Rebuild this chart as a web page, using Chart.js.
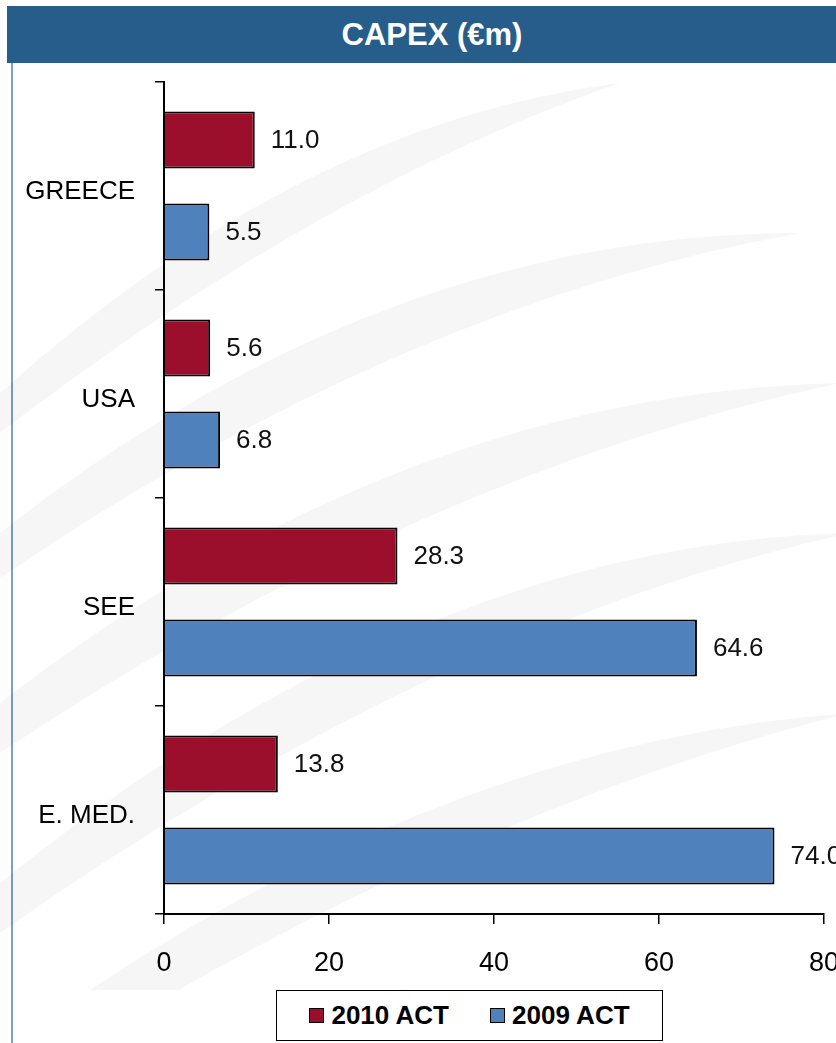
<!DOCTYPE html>
<html>
<head>
<meta charset="utf-8">
<title>CAPEX (€m)</title>
<script src="https://cdn.jsdelivr.net/npm/chart.js@4/dist/chart.umd.min.js"></script>
<style>
  html, body { margin: 0; padding: 0; background: #fff; overflow: hidden; }
  body { width: 836px; height: 1043px; position: relative; font-family: "Liberation Sans", Arial, sans-serif; }
  #titleBar {
    position: absolute; left: 7px; top: 6px; width: 850px; height: 57px;
    background: #265d8a; color: #fff; font-weight: bold; font-size: 31px;
    line-height: 57px; text-align: center;
  }
  #leftRule { position: absolute; left: 11px; top: 63px; width: 2px; height: 980px; background: #7f9fc4; }
  #chartWrap { position: absolute; left: 0; top: 63px; }
  #legend {
    position: absolute; left: 276px; top: 990px; width: 387px; height: 51px;
    border: 1.5px solid #000; background: #fff; box-sizing: border-box;
    display: flex; align-items: center; justify-content: center; gap: 41px;
    font-weight: bold; font-size: 26px; color: #000;
  }
  #legend .item { display: flex; align-items: center; gap: 7px; }
  #legend .swatch { width: 15px; height: 15px; border: 1.5px solid #000; box-sizing: border-box; }
</style>
</head>
<body>
<div id="titleBar">CAPEX (€m)</div>
<div id="leftRule"></div>
<div id="chartWrap"><canvas id="capexChart" width="850" height="927"></canvas></div>
<div id="legend"></div>

<script>
// chart data
const regions = ['GREECE', 'USA', 'SEE', 'E. MED.'];
const capex2010 = [11.0, 5.6, 28.3, 13.8];
const capex2009 = [5.5, 6.8, 64.6, 74.0];
const seriesLabels = ['2010 ACT', '2009 ACT'];
const xTicks = [0, 20, 40, 60, 80];

const RED = '#9b0f2d';
const BLUE = '#4f81bd';
const FONT = '"Liberation Sans", Arial, sans-serif';

// faint grey swooshes behind the plot (decoration only)
const watermark = {
  id: 'watermark',
  beforeDraw(chart) {
    const ctx = chart.ctx;
    const swooshes = [
      [0, 330, 300, 60, 620, 20, 40],
      [0, 470, 380, 170, 800, 170, 45],
      [0, 640, 400, 330, 840, 320, 50],
      [0, 820, 420, 480, 850, 470, 50],
      [0, 990, 420, 680, 850, 650, 45]
    ];
    ctx.save();
    ctx.fillStyle = 'rgba(0,0,0,0.035)';
    swooshes.forEach(([x0, y0, cx, cy, x1, y1, w]) => {
      ctx.beginPath();
      ctx.moveTo(x0, y0);
      ctx.quadraticCurveTo(cx, cy, x1, y1);
      ctx.quadraticCurveTo(cx + 20, cy + w * 1.6, x0, y0 + w);
      ctx.closePath();
      ctx.fill();
    });
    ctx.restore();
  }
};

// value labels to the right of each bar
const valueLabels = {
  id: 'valueLabels',
  afterDatasetsDraw(chart) {
    const ctx = chart.ctx;
    ctx.save();
    ctx.font = '26px ' + FONT;
    ctx.fillStyle = '#111';
    ctx.textAlign = 'left';
    ctx.textBaseline = 'middle';
    chart.data.datasets.forEach((ds, i) => {
      chart.getDatasetMeta(i).data.forEach((bar, j) => {
        ctx.fillText(ds.data[j].toFixed(1), bar.x + 16, bar.y + 1);
      });
    });
    ctx.restore();
  }
};

const chart = new Chart(document.getElementById('capexChart'), {
  type: 'bar',
  data: {
    labels: regions,
    datasets: [
      {
        label: seriesLabels[0],
        data: capex2010,
        backgroundColor: RED,
        borderColor: '#000',
        borderWidth: 2,
        categoryPercentage: 0.885,
        barPercentage: 0.62
      },
      {
        label: seriesLabels[1],
        data: capex2009,
        backgroundColor: BLUE,
        borderColor: '#000',
        borderWidth: 2,
        categoryPercentage: 0.885,
        barPercentage: 0.62
      }
    ]
  },
  options: {
    indexAxis: 'y',
    responsive: false,
    animation: false,
    devicePixelRatio: 1,
    layout: { padding: { top: 19, right: 26, bottom: 0, left: 0 } },
    plugins: {
      legend: { display: false },
      tooltip: { enabled: false },
      title: { display: false }
    },
    scales: {
      x: {
        min: 0,
        max: 80,
        afterFit(scale) {
          scale.height = 76;
          scale.paddingLeft = 0;
          scale.paddingRight = 0;
        },
        afterBuildTicks(scale) { scale.ticks = xTicks.map(v => ({ value: v })); },
        border: { display: true, color: '#000', width: 2 },
        grid: { drawOnChartArea: false, drawTicks: true, tickLength: 10, color: '#000', lineWidth: 1.5 },
        ticks: {
          color: '#000',
          padding: 23,
          maxRotation: 0,
          font: { family: FONT, size: 27 }
        }
      },
      y: {
        afterFit(scale) {
          scale.width = 164;
          scale.paddingTop = 0;
          scale.paddingBottom = 0;
        },
        border: { display: true, color: '#000', width: 2 },
        grid: { offset: true, drawOnChartArea: false, drawTicks: true, tickLength: 9, color: '#000', lineWidth: 1.5 },
        ticks: {
          color: '#000',
          padding: 20,
          labelOffset: 6,
          font: { family: FONT, size: 26 }
        }
      }
    }
  },
  plugins: [watermark, valueLabels]
});

// legend box built from the chart's own datasets
const legendEl = document.getElementById('legend');
chart.data.datasets.forEach(ds => {
  const item = document.createElement('div');
  item.className = 'item';
  const sw = document.createElement('span');
  sw.className = 'swatch';
  sw.style.background = ds.backgroundColor;
  const txt = document.createElement('span');
  txt.textContent = ds.label;
  item.appendChild(sw);
  item.appendChild(txt);
  legendEl.appendChild(item);
});
</script>
</body>
</html>
